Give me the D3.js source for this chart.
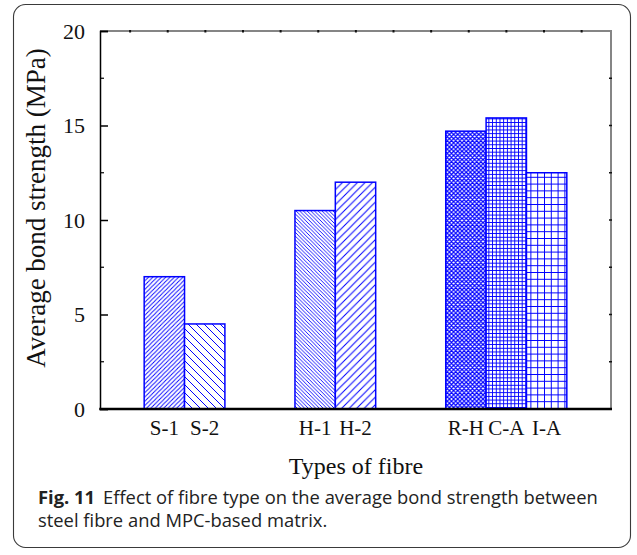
<!DOCTYPE html>
<html>
<head>
<meta charset="utf-8">
<script src="https://cdn.jsdelivr.net/npm/d3@7"></script>
<style>
  html, body { margin: 0; padding: 0; background: #fff; }
  svg { display: block; }
</style>
</head>
<body>
<svg id="chart" width="637" height="555"></svg>
<script>
// Average bond strength per fibre type (MPa)
const fibreTypes = ["S-1", "S-2", "H-1", "H-2", "R-H", "C-A", "I-A"];
const fibreGroups = ["S", "S", "H", "H", "R", "R", "R"];
const groupNames = ["S", "H", "R"];
const bondStrength = [7.0, 4.5, 10.5, 12.0, 14.7, 15.4, 12.5];
const yTicks = [0, 5, 10, 15, 20];
const yMinorTicks = [2.5, 7.5, 12.5, 17.5];
const frameTicks = d3.range(0, 13);

const BLUE = "#0000ff";
const SERIF = "'Liberation Serif', 'Times New Roman', serif";
const svg = d3.select("#chart");
const plot = { left: 100, right: 611, top: 31, bottom: 409 };

const y = d3.scaleLinear().domain([0, 20]).range([plot.bottom, plot.top]);
const xGroup = d3.scaleBand()
  .domain(groupNames)
  .range([plot.left, plot.right])
  .paddingInner(0.197)
  .paddingOuter(0.293);
const barW = xGroup.bandwidth() / 3;
const xFrame = d3.scaleLinear().domain([-0.8, 12.78]).range([plot.left, plot.right]);

// bar x from its group band and its order inside the group
function barX(i) {
  const g = fibreGroups[i];
  const k = fibreGroups.slice(0, i).filter(d => d === g).length;
  return xGroup(g) + k * barW;
}

// outer rounded frame
svg.append("rect")
  .attr("x", 13.5).attr("y", 4.5)
  .attr("width", 617).attr("height", 543)
  .attr("rx", 12).attr("ry", 12)
  .attr("fill", "#fff")
  .attr("stroke", "#3a3a3a")
  .attr("stroke-width", 1.1);

// hatch patterns
const defs = svg.append("defs");
function hatch(id, s, kind, sw) {
  const p = defs.append("pattern")
    .attr("id", id)
    .attr("patternUnits", "userSpaceOnUse")
    .attr("width", s).attr("height", s);
  p.append("rect").attr("width", s).attr("height", s).attr("fill", "#fff");
  let d = "";
  if (kind === "fwd" || kind === "xdiag") {
    d += `M0,${s} L${s},0 M${-s / 2},${s / 2} L${s / 2},${-s / 2} M${s / 2},${s * 1.5} L${s * 1.5},${s / 2} `;
  }
  if (kind === "back" || kind === "xdiag") {
    d += `M0,0 L${s},${s} M${-s / 2},${s / 2} L${s / 2},${s * 1.5} M${s / 2},${-s / 2} L${s * 1.5},${s / 2} `;
  }
  if (kind === "grid") {
    d += `M0,0.5 H${s} M0.5,0 V${s}`;
  }
  p.append("path")
    .attr("d", d)
    .attr("fill", "none")
    .attr("stroke", BLUE)
    .attr("stroke-width", sw)
    .attr("shape-rendering", kind === "grid" ? "crispEdges" : "auto");
}
hatch("p-s1", 4.3, "fwd", 0.9);
hatch("p-s2", 8, "back", 1);
hatch("p-h1", 3.7, "back", 0.9);
hatch("p-h2", 7.5, "fwd", 1);
hatch("p-rh", 4.2, "xdiag", 1.2);
hatch("p-ca", 3.7, "grid", 1);
hatch("p-ia", 6.8, "grid", 1);
const patternOf = ["p-s1", "p-s2", "p-h1", "p-h2", "p-rh", "p-ca", "p-ia"];

// bars
svg.append("g")
  .selectAll("rect")
  .data(bondStrength)
  .join("rect")
  .attr("x", (d, i) => barX(i))
  .attr("y", d => y(d))
  .attr("width", barW)
  .attr("height", d => y(0) - y(d))
  .attr("fill", (d, i) => `url(#${patternOf[i]})`)
  .attr("stroke", BLUE)
  .attr("stroke-width", 1.5);

// frame: grey top and right, black left and bottom
svg.append("line")
  .attr("x1", plot.left).attr("x2", plot.right + 1)
  .attr("y1", plot.top).attr("y2", plot.top)
  .attr("stroke", "#858585").attr("stroke-width", 2);
svg.append("line")
  .attr("x1", plot.right).attr("x2", plot.right)
  .attr("y1", plot.top).attr("y2", plot.bottom)
  .attr("stroke", "#858585").attr("stroke-width", 2);

// small dark marks along the top edge
svg.append("g")
  .selectAll("line")
  .data(frameTicks)
  .join("line")
  .attr("x1", d => xFrame(d)).attr("x2", d => xFrame(d))
  .attr("y1", plot.top - 1).attr("y2", plot.top + 1.5)
  .attr("stroke", "#111").attr("stroke-width", 2);

// right edge marks
svg.append("g")
  .selectAll("line")
  .data(yTicks.concat(yMinorTicks).filter(d => d > 0 && d < 20))
  .join("line")
  .attr("x1", plot.right - 2).attr("x2", plot.right + 1)
  .attr("y1", d => y(d)).attr("y2", d => y(d))
  .attr("stroke", "#111").attr("stroke-width", 1.5);

// left axis with inward ticks
const yAxis = d3.axisLeft(y)
  .tickValues(yTicks)
  .tickSize(-8)
  .tickPadding(15)
  .tickFormat(d3.format("d"));
const gy = svg.append("g")
  .attr("transform", `translate(${plot.left},0)`)
  .call(yAxis);
gy.select(".domain").attr("stroke", "#000").attr("stroke-width", 1.5);
gy.selectAll(".tick line").attr("stroke", "#000").attr("stroke-width", 1.5);
gy.selectAll(".tick text")
  .attr("font-family", SERIF)
  .attr("font-size", 22)
  .attr("fill", "#111");

svg.append("g")
  .selectAll("line")
  .data(yMinorTicks)
  .join("line")
  .attr("x1", plot.left).attr("x2", plot.left + 4)
  .attr("y1", d => y(d)).attr("y2", d => y(d))
  .attr("stroke", "#000").attr("stroke-width", 1.2);

// bottom axis line
svg.append("line")
  .attr("x1", plot.left - 0.75).attr("x2", plot.right + 1)
  .attr("y1", plot.bottom).attr("y2", plot.bottom)
  .attr("stroke", "#000").attr("stroke-width", 2.6);

// category labels under each bar
svg.append("g")
  .selectAll("text")
  .data(fibreTypes)
  .join("text")
  .attr("x", (d, i) => barX(i) + barW / 2)
  .attr("y", 435)
  .attr("text-anchor", "middle")
  .attr("font-family", SERIF)
  .attr("font-size", 21)
  .attr("fill", "#111")
  .text(d => d);

// axis titles
svg.append("text")
  .attr("x", 356)
  .attr("y", 474)
  .attr("text-anchor", "middle")
  .attr("font-family", SERIF)
  .attr("font-size", 24)
  .attr("fill", "#111")
  .text("Types of fibre");

svg.append("text")
  .attr("transform", "translate(45,208) rotate(-90)")
  .attr("text-anchor", "middle")
  .attr("font-family", SERIF)
  .attr("font-size", 27)
  .attr("fill", "#111")
  .text("Average bond strength (MPa)");

// caption, sized so the first line spans the frame's text width
const CAP_FONT = "'Open Sans', 'Noto Sans', sans-serif";
const cap = svg.append("text")
  .attr("x", 38)
  .attr("y", 504)
  .attr("font-family", CAP_FONT)
  .attr("font-size", 17)
  .attr("fill", "#222");
cap.append("tspan").attr("font-weight", "bold").text("Fig. 11");
cap.append("tspan").attr("dx", 8).text("Effect of fibre type on the average bond strength between");
const cap2 = svg.append("text")
  .attr("x", 38)
  .attr("y", 527)
  .attr("font-family", CAP_FONT)
  .attr("font-size", 17)
  .attr("fill", "#222")
  .text("steel fibre and MPC-based matrix.");
const w1 = cap.node().getComputedTextLength();
const capSize = 17 * 552 / w1;
cap.attr("font-size", capSize);
cap2.attr("font-size", capSize);
</script>
</body>
</html>
